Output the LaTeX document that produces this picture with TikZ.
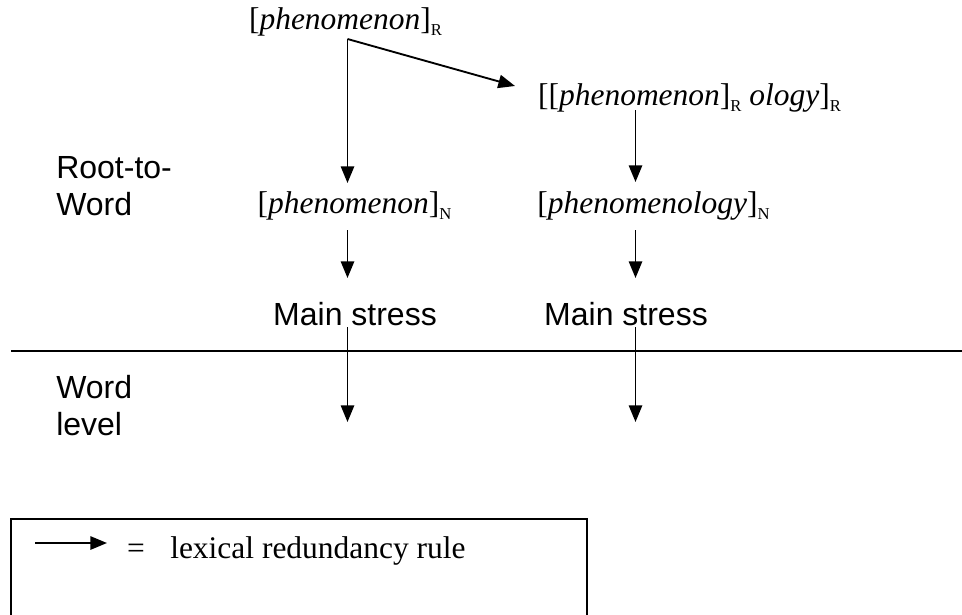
\documentclass[tikz,border=0pt]{standalone}
\usepackage{fontspec}
\setmainfont{Liberation Serif}
\setsansfont{Liberation Sans}
\usetikzlibrary{arrows.meta}

% small upright subscript label (R, N)
\newcommand\lsub[1]{\raisebox{-0.2em}{\fontsize{12.5}{12.5}\selectfont\upshape #1}}

\begin{document}
\begin{tikzpicture}[x=0.75pt,y=-0.75pt,
  form/.style={inner sep=0pt,anchor=base,font=\fontsize{23.6}{28}\selectfont},
  lbl/.style={inner sep=0pt,anchor=base west,font=\fontsize{24}{29}\selectfont\sffamily},
  stress/.style={inner sep=0pt,anchor=base,font=\fontsize{24}{29}\selectfont\sffamily},
  rule/.style={line width=1.4pt,-{Triangle[length=12.5pt,width=10pt]}},
  plain/.style={line width=1.4pt}]
\useasboundingbox (0,0) rectangle (962,614);
\fill[white] (0,0) rectangle (962,614);

% forms
\node[form] (root) at (345.5,29) {[\textit{phenomenon}]\lsub{R}};
\node[form] (deriv) at (689.5,105) {[[\textit{phenomenon}]\lsub{R} \textit{ology}]\lsub{R}};
\node[form] (n1) at (354.5,213) {[\textit{phenomenon}]\lsub{N}};
\node[form] (n2) at (653.5,213) {[\textit{phenomenology}]\lsub{N}};
\node[stress] (ms1) at (355,325) {Main stress};
\node[stress] (ms2) at (626,325) {Main stress};

% level labels
\node[lbl] (rt1) at (56,178) {Root-to-};
\node[lbl] (rt2) at (56,215) {Word};
\node[lbl] (wl1) at (56,398) {Word};
\node[lbl] (wl2) at (56,435) {level};

% branch point and arrow ends
\coordinate (fork) at (347.5,39);
\coordinate (t1) at (347.5,183);
\coordinate (td) at (515,86);
\coordinate (s2) at (635.5,110);
\coordinate (t2) at (635.5,182);
\coordinate (a1) at (347.5,230);
\coordinate (b1) at (347.5,278);
\coordinate (a2) at (635.5,230);
\coordinate (b2) at (635.5,278);
\coordinate (c1) at (347.5,327);
\coordinate (d1) at (347.5,422);
\coordinate (c2) at (635.5,327);
\coordinate (d2) at (635.5,422);

\draw[rule] (fork) -- (t1);
\draw[rule] (fork) -- (td);
\draw[rule] (s2) -- (t2);
\draw[rule] (a1) -- (b1);
\draw[rule] (a2) -- (b2);
\draw[rule] (c1) -- (d1);
\draw[rule] (c2) -- (d2);

% level boundary
\coordinate (hl) at (11,351);
\coordinate (hr) at (962,351);
\draw[plain] (hl) -- (hr);

% legend box
\coordinate (bl) at (11,640);
\coordinate (btl) at (11,519);
\coordinate (btr) at (587,519);
\coordinate (br) at (587,640);
\draw[plain] (bl) -- (btl) -- (btr) -- (br);
\coordinate (k1) at (35,543);
\coordinate (k2) at (107,543);
\draw[rule] (k1) -- (k2);
\node[form] (eq) at (136,558) {=};
\node[form,anchor=base west] (key) at (170,558) {lexical redundancy rule};
\end{tikzpicture}
\end{document}
